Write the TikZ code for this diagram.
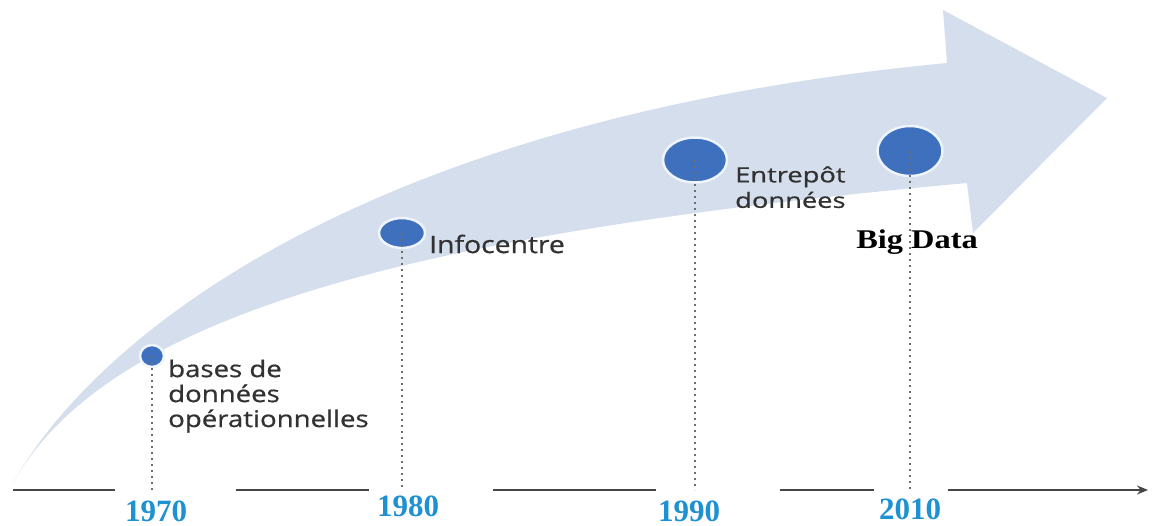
\documentclass[tikz,border=0pt]{standalone}
\usepackage{fontspec}
\setmainfont{Liberation Serif}
\newfontfamily\labfont[FakeBold=0.6]{Open Sans}
\usetikzlibrary{arrows.meta,shapes.geometric}
\definecolor{band}{RGB}{213,222,236}
\definecolor{dotblue}{RGB}{62,112,190}
\definecolor{dotrim}{RGB}{238,244,252}
\definecolor{yearblue}{RGB}{30,145,210}
\definecolor{txtgray}{RGB}{50,50,50}
\definecolor{axisgray}{RGB}{70,70,70}
\definecolor{dotline}{RGB}{110,110,110}
\newcommand{\hstretch}[2]{\scalebox{#1}[1]{#2}}
\begin{document}
\begin{tikzpicture}[x=1pt,y=-1pt,
  dotnode/.style={ellipse, fill=dotblue, draw=dotrim, line width=2.5pt, inner sep=0pt},
  lab/.style={text=txtgray, anchor=west, inner sep=0pt},
  year/.style={font=\bfseries\fontsize{31}{31}\selectfont, text=yearblue, inner sep=0pt},
  vline/.style={draw=dotline, line width=1.6pt, dash pattern=on 2pt off 4pt},
  axisline/.style={draw=axisgray, line width=2pt}]
\fill[white] (0,0) rectangle (1152,526);
\useasboundingbox (0,0) rectangle (1152,526);
% band arrow
\fill[band] (13,483) .. controls (90,345) and (350,120) .. (947,63) -- (943,10) -- (1107,98) -- (973,233) -- (967,183) .. controls (430,232) and (110,310) .. (13,483) -- cycle;
% axis
\coordinate (a0) at (13,490);
\coordinate (a1) at (115,490);
\coordinate (a2) at (236,490);
\coordinate (a3) at (369,490);
\coordinate (a4) at (493,490);
\coordinate (a5) at (656,490);
\coordinate (a6) at (780,490);
\coordinate (a7) at (874,490);
\coordinate (a8) at (948,490);
\coordinate (a9) at (1148,490);
\draw[axisline] (a0) -- (a1);
\draw[axisline] (a2) -- (a3);
\draw[axisline] (a4) -- (a5);
\draw[axisline] (a6) -- (a7);
\draw[axisline, -{Stealth[length=11pt,width=9pt]}] (a8) -- (a9);
% dots
\node[dotnode, minimum width=24pt, minimum height=22pt] (d1) at (152,356) {};
\node[dotnode, minimum width=46pt, minimum height=30pt] (d2) at (402,233) {};
\node[dotnode, minimum width=64pt, minimum height=45pt] (d3) at (695,160) {};
\node[dotnode, minimum width=65pt, minimum height=50pt] (d4) at (910,151) {};
% foot points
\coordinate (f1) at (152,490);
\coordinate (f2) at (402,490);
\coordinate (f3) at (695,490);
\coordinate (f4) at (910,490);
\draw[vline] (d1.center) -- (f1);
\draw[vline] (d2.center) -- (f2);
\draw[vline] (d3.center) -- (f3);
\draw[vline] (d4.center) -- (f4);
% labels
\node[lab, font=\labfont\fontsize{23}{24.5}\selectfont] (l1) at (168,397)
  {\hstretch{1.2}{\begin{tabular}{@{}l@{}}bases de\\données\\opérationnelles\end{tabular}}};
\node[lab, font=\labfont\fontsize{24}{26}\selectfont] (l2) at (429,244)
  {\hstretch{1.18}{Infocentre}};
\node[lab, font=\labfont\fontsize{21}{25.5}\selectfont] (l3) at (735,190)
  {\hstretch{1.3}{\begin{tabular}{@{}l@{}}Entrepôt\\données\end{tabular}}};
\node[font=\bfseries\fontsize{27}{27}\selectfont, text=black, inner sep=0pt] (l4) at (917,242)
  {\hstretch{1.2}{Big Data}};
% years
\node[year] (y1) at (156,511) {1970};
\node[year] (y2) at (408,506) {1980};
\node[year] (y3) at (689,511) {1990};
\node[year] (y4) at (910,509) {2010};
\end{tikzpicture}
\end{document}
